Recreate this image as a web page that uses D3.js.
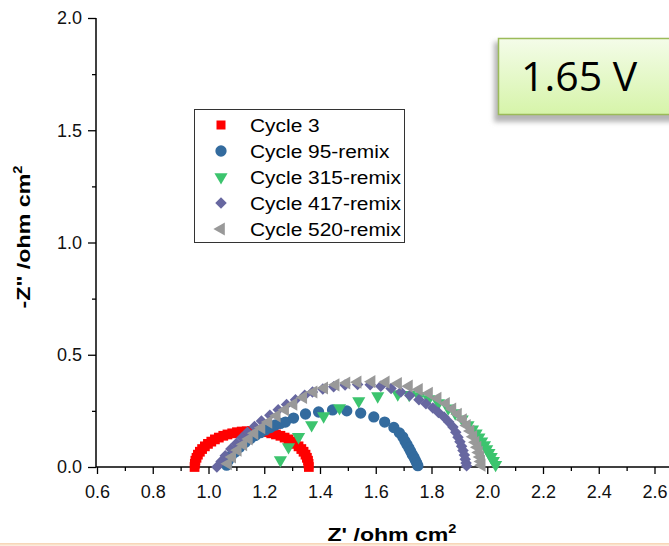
<!DOCTYPE html>
<html><head><meta charset="utf-8">
<script src="https://cdn.jsdelivr.net/npm/d3@7"></script>
<style>body{margin:0;background:#fff}svg{display:block}</style>
</head><body>
<svg id="c" width="669" height="546"></svg>
<script>
// ---- data (Z', -Z'') ----
const cycle3 = [[0.950,0.000],[0.951,0.014],[0.953,0.028],[0.957,0.041],[0.962,0.055],[0.969,0.068],[0.977,0.080],[0.987,0.092],[0.998,0.103],[1.010,0.113],[1.023,0.123],[1.037,0.131],[1.053,0.139],[1.068,0.145],[1.085,0.150],[1.102,0.155],[1.119,0.158],[1.137,0.159],[1.155,0.160],[1.173,0.159],[1.191,0.158],[1.208,0.155],[1.225,0.150],[1.242,0.145],[1.258,0.139],[1.273,0.131],[1.287,0.123],[1.300,0.113],[1.312,0.103],[1.323,0.092],[1.333,0.080],[1.341,0.068],[1.348,0.055],[1.353,0.041],[1.357,0.028],[1.359,0.014],[1.360,0.000]];
const cycle95 = [[1.065,0.008],[1.072,0.030],[1.082,0.050],[1.096,0.067],[1.112,0.088],[1.132,0.110],[1.150,0.126],[1.168,0.140],[1.186,0.153],[1.204,0.165],[1.222,0.176],[1.240,0.187],[1.258,0.194],[1.276,0.200],[1.305,0.218],[1.348,0.236],[1.395,0.245],[1.445,0.254],[1.496,0.250],[1.546,0.240],[1.593,0.223],[1.632,0.200],[1.665,0.176],[1.685,0.152],[1.697,0.134],[1.705,0.115],[1.712,0.100],[1.719,0.085],[1.725,0.070],[1.731,0.056],[1.737,0.043],[1.742,0.030],[1.747,0.018],[1.751,0.006]];
const cycle315 = [[1.258,0.031],[1.287,0.089],[1.323,0.134],[1.370,0.187],[1.413,0.227],[1.470,0.263],[1.539,0.294],[1.607,0.316],[1.679,0.325],[1.720,0.322],[1.755,0.316],[1.790,0.303],[1.825,0.285],[1.860,0.262],[1.885,0.240],[1.910,0.213],[1.931,0.187],[1.947,0.168],[1.960,0.150],[1.970,0.132],[1.980,0.115],[1.990,0.098],[1.998,0.080],[2.006,0.063],[2.014,0.045],[2.022,0.028],[2.030,0.010]];
const cycle417 = [[1.030,0.000],[1.045,0.025],[1.060,0.050],[1.080,0.080],[1.100,0.105],[1.120,0.130],[1.140,0.155],[1.165,0.180],[1.190,0.205],[1.220,0.230],[1.250,0.255],[1.280,0.278],[1.312,0.300],[1.345,0.320],[1.373,0.334],[1.410,0.347],[1.449,0.357],[1.490,0.365],[1.535,0.368],[1.580,0.366],[1.618,0.360],[1.655,0.350],[1.690,0.334],[1.722,0.318],[1.755,0.300],[1.780,0.282],[1.805,0.263],[1.825,0.243],[1.845,0.223],[1.862,0.200],[1.877,0.178],[1.887,0.155],[1.895,0.133],[1.902,0.112],[1.908,0.092],[1.913,0.073],[1.918,0.053],[1.921,0.035],[1.924,0.018],[1.926,0.005]];
const cycle520 = [[1.070,0.015],[1.085,0.045],[1.105,0.075],[1.125,0.100],[1.145,0.125],[1.165,0.150],[1.190,0.175],[1.215,0.200],[1.245,0.228],[1.275,0.255],[1.305,0.280],[1.340,0.310],[1.377,0.334],[1.415,0.352],[1.456,0.366],[1.495,0.374],[1.535,0.378],[1.585,0.380],[1.636,0.378],[1.680,0.372],[1.719,0.360],[1.755,0.345],[1.791,0.328],[1.822,0.306],[1.852,0.283],[1.875,0.258],[1.895,0.235],[1.913,0.210],[1.927,0.185],[1.940,0.160],[1.950,0.135],[1.958,0.110],[1.965,0.088],[1.970,0.065],[1.975,0.045],[1.978,0.025],[1.980,0.008]];
const seriesNames = ["Cycle 3","Cycle 95-remix","Cycle 315-remix","Cycle 417-remix","Cycle 520-remix"];
const xTicks = [0.6,0.8,1.0,1.2,1.4,1.6,1.8,2.0,2.2,2.4,2.6];
const xMinorTicks = [0.7,0.9,1.1,1.3,1.5,1.7,1.9,2.1,2.3,2.5];
const yTicks = [0.0,0.5,1.0,1.5,2.0];
const yMinorTicks = [0.25,0.75,1.25,1.75];
const labelText = "1.65 V";

// ---- styles ----
const colors = ["#ff0000","#336b9e","#3cc46e","#6767a0","#999999"];
const symbols = [
  {t:d3.symbolSquare, s:95, r:0},
  {t:d3.symbolCircle, s:100, r:0},
  {t:d3.symbolTriangle, s:75, r:180},
  {t:d3.symbolSquare, s:66, r:45},
  {t:d3.symbolTriangle, s:75, r:-90}
];
const data = [cycle3, cycle95, cycle315, cycle417, cycle520];

const svg = d3.select("#c");
const x = d3.scaleLinear().domain([0.6,2.6]).range([97,654.5]);
const y = d3.scaleLinear().domain([0,2]).range([467,18]);

// bottom band
const defs = svg.append("defs");
const gBand = defs.append("linearGradient").attr("id","band").attr("x1",0).attr("y1",0).attr("x2",0).attr("y2",1);
gBand.append("stop").attr("offset","0%").attr("stop-color","#f6d2b0");
gBand.append("stop").attr("offset","100%").attr("stop-color","#fdf0e4");
svg.append("rect").attr("x",0).attr("y",543).attr("width",669).attr("height",3).attr("fill","url(#band)");

// label box with shadow
const g1 = defs.append("linearGradient").attr("id","gb").attr("x1",0).attr("y1",0).attr("x2",0).attr("y2",1);
g1.append("stop").attr("offset","0%").attr("stop-color","#f4fce9");
g1.append("stop").attr("offset","100%").attr("stop-color","#d6f4a9");
const f = defs.append("filter").attr("id","blur").attr("x","-20%").attr("y","-20%").attr("width","140%").attr("height","140%");
f.append("feGaussianBlur").attr("stdDeviation",2.5);
svg.append("rect").attr("x",494).attr("y",42).attr("width",190).attr("height",80).attr("fill","#b5b5b5").attr("filter","url(#blur)");
svg.append("rect").attr("x",498.5).attr("y",38.5).attr("width",190).attr("height",76).attr("fill","url(#gb)").attr("stroke","#9bbb59").attr("stroke-width",1.5);
svg.append("text").attr("x",521).attr("y",91).attr("font-family","'Open Sans', 'Noto Sans', sans-serif").attr("font-size",41).attr("fill","#000").text(labelText);

// axes
const font = "'Liberation Sans', Arial, sans-serif";
const xAxis = svg.append("g").attr("transform","translate(0,467)")
  .call(d3.axisBottom(x).tickValues(xTicks).tickFormat(d3.format(".1f")).tickSizeOuter(0).tickSize(7).tickPadding(11));
xAxis.select(".domain").remove();
xAxis.selectAll("text").attr("font-family",font).attr("font-size",18).attr("fill","#111");
xAxis.selectAll("line").attr("stroke","#000").attr("stroke-width",1.3);
svg.append("g").attr("transform","translate(0,467)")
  .call(d3.axisBottom(x).tickValues(xMinorTicks).tickFormat("").tickSizeOuter(0).tickSize(4))
  .call(g=>g.select(".domain").remove()).selectAll("line").attr("stroke","#000").attr("stroke-width",1.3);
svg.append("line").attr("x1",96).attr("x2",669).attr("y1",467).attr("y2",467).attr("stroke","#000").attr("stroke-width",1.5);

const yAxis = svg.append("g").attr("transform","translate(96,0)")
  .call(d3.axisLeft(y).tickValues(yTicks).tickFormat(d3.format(".1f")).tickSizeOuter(0).tickSize(8).tickPadding(6));
yAxis.select(".domain").remove();
yAxis.selectAll("text").attr("font-family",font).attr("font-size",18).attr("fill","#111");
yAxis.selectAll("line").attr("stroke","#000").attr("stroke-width",1.3);
svg.append("g").attr("transform","translate(96,0)")
  .call(d3.axisLeft(y).tickValues(yMinorTicks).tickFormat("").tickSizeOuter(0).tickSize(4))
  .call(g=>g.select(".domain").remove()).selectAll("line").attr("stroke","#000").attr("stroke-width",1.3);
svg.append("line").attr("x1",96).attr("x2",96).attr("y1",18).attr("y2",467).attr("stroke","#000").attr("stroke-width",1.5);

// axis titles
const xt = svg.append("text").attr("x",392).attr("y",541).attr("text-anchor","middle")
  .attr("font-family",font).attr("font-weight","bold").attr("font-size",19).attr("fill","#000")
  .attr("textLength",129).attr("lengthAdjust","spacingAndGlyphs");
xt.append("tspan").text("Z' /ohm cm");
xt.append("tspan").attr("dy",-8).attr("font-size",12).text("2");
const yt = svg.append("text").attr("transform","translate(30,237) rotate(-90)").attr("text-anchor","middle")
  .attr("font-family",font).attr("font-weight","bold").attr("font-size",19).attr("fill","#000")
  .attr("textLength",143).attr("lengthAdjust","spacingAndGlyphs");
yt.append("tspan").text("-Z\" /ohm cm");
yt.append("tspan").attr("dy",-8).attr("font-size",12).text("2");

// data marks
data.forEach((ser,i)=>{
  const sym = d3.symbol().type(symbols[i].t).size(symbols[i].s);
  svg.append("g").selectAll("path").data(ser).join("path")
    .attr("d",sym)
    .attr("transform",d=>`translate(${x(d[0])},${y(d[1])}) rotate(${symbols[i].r})`)
    .attr("fill",colors[i]);
});

// legend
const lg = svg.append("g");
lg.append("rect").attr("x",194.5).attr("y",109.5).attr("width",210).attr("height",133).attr("fill","#fff").attr("stroke","#333").attr("stroke-width",1);
const rowY = [125,151,177,203,229];
seriesNames.forEach((n,i)=>{
  const sym = d3.symbol().type(symbols[i].t).size(i===0?81:symbols[i].s);
  lg.append("path").attr("d",sym).attr("transform",`translate(221,${rowY[i]}) rotate(${symbols[i].r})`).attr("fill",colors[i]);
  lg.append("text").attr("transform",`translate(250,${rowY[i]+7}) scale(1.1,1)`).attr("font-family",font).attr("font-size",19).attr("fill","#000").text(n);
});
</script>
</body></html>
